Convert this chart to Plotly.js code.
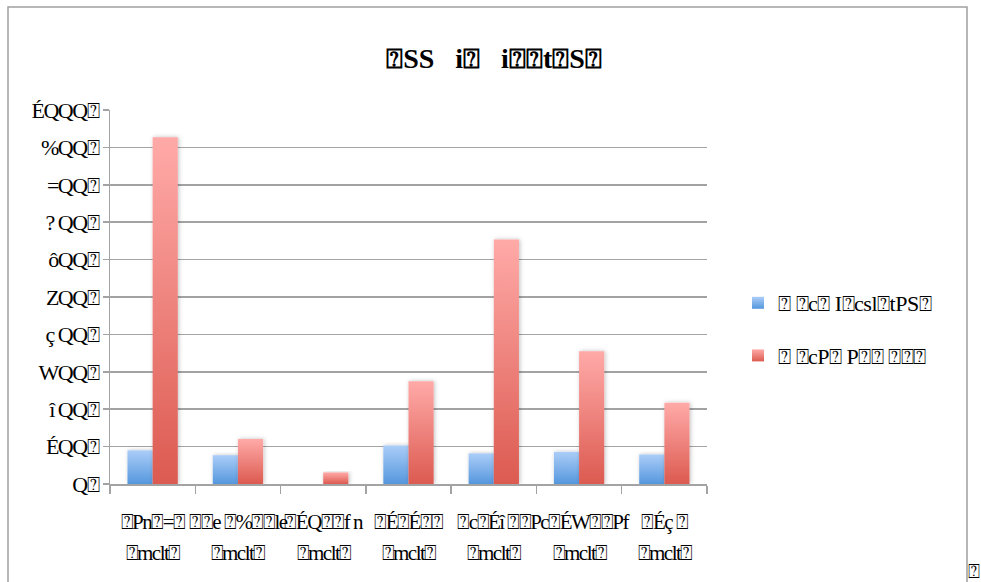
<!DOCTYPE html>
<html>
<head>
<meta charset="utf-8">
<script src="https://cdn.plot.ly/plotly-3.0.1.min.js"></script>
<style>
html,body{margin:0;padding:0;background:#fff;}
#chart{width:981px;height:582px;}
#chart .xtick text, #chart .annotation-text { letter-spacing: -1.5px; }
#chart .ytick text { letter-spacing: -1.5px; }
#chart .legendtext { letter-spacing: -0.5px; }
</style>
</head>
<body>
<div id="chart"></div>
<script>
// ---- data ----
var categories = ["c1","c2","c3","c4","c5","c6","c7"];
var labelRow1 = ["⍰Pn⍰=⍰", "⍰⍰e ⍰%⍰⍰le", "⍰ÉQ⍰⍰f n", "⍰É⍰É⍰⍰", "⍰c⍰Éî ⍰⍰", "Pc⍰ÉW⍰⍰Pf", "⍰Éç ⍰"];
var labelRow2 = ["⍰mclt⍰", "⍰mclt⍰", "⍰mclt⍰", "⍰mclt⍰", "⍰mclt⍰", "⍰mclt⍰", "⍰mclt⍰"];
var seriesBlueName = "⍰ ⍰c⍰ I⍰csl⍰tPS⍰";
var seriesRedName = "⍰ ⍰cP⍰ P⍰⍰ ⍰⍰⍰";
var blueValues = [90, 77, 0, 103, 82, 86, 79];
var redValues = [927, 120, 31, 275, 654, 355, 217];
var yTickVals = [0, 100, 200, 300, 400, 500, 600, 700, 800, 900, 1000];
var yTickText = ["Q⍰", "ÉQQ⍰", "î QQ⍰", "WQQ⍰", "ç QQ⍰", "ZQQ⍰", "ôQQ⍰", "? QQ⍰", "=QQ⍰", "%QQ⍰", "ÉQQQ⍰"];
var titleText = "⍰SS\u00a0\u00a0\u00a0i⍰\u00a0\u00a0\u00a0i⍰⍰t⍰S⍰";
var cornerMark = "⍰";

var serif = "'Liberation Serif', 'Times New Roman', serif";
var gridCol = "#a3a3a3";

var plotL = 110, plotR = 707, plotT = 110, plotB = 484;
var pw = plotR - plotL, ph = plotB - plotT;
function px2x(p){ return (p - plotL) / pw; }
function py2y(p){ return (plotB - p) / ph; }

var traces = [
  {type: "bar", name: seriesBlueName, x: categories, y: blueValues,
   marker: {color: "#7fb2ea"}, legendgroup: "a", hoverinfo: "skip"},
  {type: "bar", name: seriesRedName, x: categories, y: redValues,
   marker: {color: "#ee807a"}, legendgroup: "b", hoverinfo: "skip"}
];

var annotations = categories.map(function (c, i) {
  return {x: c, xref: "x", y: py2y(553), yref: "paper", text: labelRow2[i],
          showarrow: false, xanchor: "center", yanchor: "middle",
          font: {family: serif, size: 21, color: "#000"}};
});
annotations.push({x: px2x(973), xref: "paper", y: py2y(571), yref: "paper", text: cornerMark,
  showarrow: false, xanchor: "center", yanchor: "middle",
  font: {family: serif, size: 20, color: "#000"}});

var layout = {
  width: 981, height: 582,
  margin: {l: plotL, r: 981 - plotR, t: plotT, b: 582 - plotB, pad: 0},
  paper_bgcolor: "#fff", plot_bgcolor: "#fff",
  font: {family: serif, size: 20, color: "#000"},
  title: {text: titleText, font: {family: serif, size: 28, color: "#000", weight: "bold"},
          x: 494 / 981, xref: "container", xanchor: "center",
          y: 1 - 58 / 582, yref: "container", yanchor: "middle"},
  barmode: "group", bargap: 0.41, bargroupgap: 0,
  showlegend: true,
  legend: {x: px2x(738), xanchor: "left", y: py2y(282), yanchor: "top",
           font: {family: serif, size: 22, color: "#000"},
           traceorder: "grouped", tracegroupgap: 21, bgcolor: "rgba(0,0,0,0)",
           itemwidth: 30},
  xaxis: {type: "category", tickmode: "array", tickvals: categories, ticktext: labelRow1,
          tickson: "boundaries", ticks: "outside", ticklen: 8, tickwidth: 1.5, tickcolor: gridCol,
          showline: true, linecolor: gridCol, linewidth: 1.5, showgrid: false,
          ticklabelstandoff: 18, tickangle: 0,
          tickfont: {family: serif, size: 21, color: "#000"}, fixedrange: true},
  yaxis: {range: [0, 1000], tickmode: "array", tickvals: yTickVals, ticktext: yTickText,
          ticks: "outside", ticklen: 6, tickwidth: 1.5, tickcolor: gridCol,
          showline: true, linecolor: gridCol, linewidth: 1.5,
          showgrid: true, gridcolor: gridCol, gridwidth: 1.5, zeroline: false,
          tickfont: {family: serif, size: 22, color: "#000"}, fixedrange: true},
  shapes: [{type: "rect", xref: "paper", yref: "paper",
            x0: px2x(8), x1: px2x(967), y0: py2y(600), y1: py2y(7),
            line: {color: "#a0a0a0", width: 1.5}, fillcolor: "rgba(0,0,0,0)", layer: "below"}],
  annotations: annotations
};

Plotly.newPlot("chart", traces, layout, {staticPlot: true, displayModeBar: false}).then(function (gd) {
  var svgNS = "http://www.w3.org/2000/svg";
  var svg = gd.querySelector("svg.main-svg");
  var defs = document.createElementNS(svgNS, "defs");
  function grad(id, top, bottom) {
    var g = document.createElementNS(svgNS, "linearGradient");
    g.setAttribute("id", id);
    g.setAttribute("x1", "0"); g.setAttribute("y1", "0");
    g.setAttribute("x2", "0"); g.setAttribute("y2", "1");
    [[0, top], [1, bottom]].forEach(function (s) {
      var st = document.createElementNS(svgNS, "stop");
      st.setAttribute("offset", s[0]);
      st.setAttribute("stop-color", s[1]);
      g.appendChild(st);
    });
    defs.appendChild(g);
  }
  grad("gBlue", "#abcdf8", "#5597dd");
  grad("gRed", "#ffaaa8", "#dc5a50");
  var f = document.createElementNS(svgNS, "filter");
  f.setAttribute("id", "shadow"); f.setAttribute("x", "-30%"); f.setAttribute("y", "-10%");
  f.setAttribute("width", "160%"); f.setAttribute("height", "130%");
  var ds = document.createElementNS(svgNS, "feDropShadow");
  ds.setAttribute("dx", "1"); ds.setAttribute("dy", "0"); ds.setAttribute("stdDeviation", "2");
  ds.setAttribute("flood-color", "#000"); ds.setAttribute("flood-opacity", "0.25");
  f.appendChild(ds); defs.appendChild(f);
  svg.insertBefore(defs, svg.firstChild);
  var ids = ["gBlue", "gRed"];
  gd.querySelectorAll(".barlayer .trace.bars").forEach(function (t, i) {
    t.querySelectorAll("path").forEach(function (p) {
      p.style.fill = "url(#" + ids[i] + ")";
      p.setAttribute("filter", "url(#shadow)");
    });
  });
  gd.querySelectorAll(".legend .traces").forEach(function (t, i) {
    t.querySelectorAll(".legendpoints path").forEach(function (p) {
      p.style.fill = "url(#" + ids[i] + ")";
      p.style.stroke = "none";
    });
  });
});
</script>
</body>
</html>
